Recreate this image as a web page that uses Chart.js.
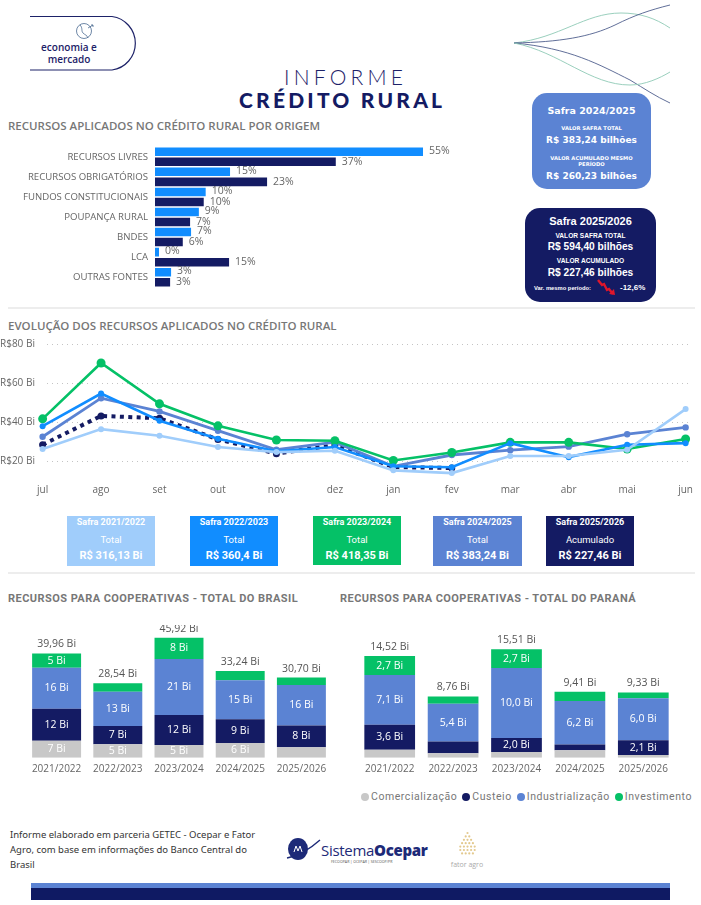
<!DOCTYPE html>
<html lang="pt-BR">
<head>
<meta charset="utf-8">
<title>Informe Crédito Rural</title>
<script src="https://cdn.jsdelivr.net/npm/chart.js@4/dist/chart.umd.min.js"></script>
<style>
html, body { margin: 0; padding: 0; background: #fff; }
#page { position: relative; width: 701px; height: 905px; overflow: hidden; font-family: "Open Sans", sans-serif; }
#page canvas { position: absolute; }
.abs { position: absolute; white-space: nowrap; }
.secao { font: 600 11.5px "Open Sans", sans-serif; color: #777; }
.secao2 { font: 700 11px Roboto, sans-serif; color: #777; letter-spacing: .45px; }
.caixa { position: absolute; color: #fff; text-align: center; }
.caixa div { position: absolute; left: 0; right: 0; white-space: nowrap; transform: translateY(-50%); }
.safra { font-family: "DejaVu Sans", sans-serif; font-weight: 700; border-radius: 15px; }
.safra2 { font-family: "Liberation Sans", sans-serif; font-weight: 700; border-radius: 15px; }
.kpi { font-family: Roboto, sans-serif; width: 88px; height: 50px; top: 516px; }
.kpi div:nth-child(1) { top: 6px; font-size: 9px; font-weight: 700; }
.kpi div:nth-child(2) { top: 23px; font-size: 9.5px; }
.kpi div:nth-child(3) { top: 39px; font-size: 11px; font-weight: 700; }
#legenda { position: absolute; right: 9px; top: 790px; font: 10.5px Roboto, sans-serif; color: #777; letter-spacing: .55px; display: flex; gap: 5px; white-space: nowrap; }
#legenda span { display: flex; align-items: center; }
#legenda i { width: 8px; height: 8px; border-radius: 50%; display: inline-block; margin-right: 2px; }
</style>
</head>
<body>
<div id="page">
  <!-- cabecalho -->
  <svg class="abs" style="left:0;top:0" width="701" height="120" fill="none">
    <defs>
      <linearGradient id="fio" x1="0" x2="1" y1="0" y2="0"><stop offset="0" stop-color="#5f7f95"/><stop offset=".8" stop-color="#7fb8a8"/><stop offset="1" stop-color="#9fd0c0"/></linearGradient>
    </defs>
    <path d="M30 16.5H112a27 27 0 0 1 0 53.5H30" stroke="#1d2268" stroke-width="1.2"/>
    <path d="M139 43.5H514" stroke="url(#fio)" stroke-width="1.3"/>
    <path d="M514 43C560 38 585 13 621 13C640 13 655 18 670 28" stroke="#8fcab5" stroke-width=".9"/>
    <path d="M514 43C560 42 590 37 615 25C635 15 650 10 670 5" stroke="#4f5f8d" stroke-width=".9"/>
    <path d="M514 43C570 48 600 65 630 80C645 89 655 96 670 103" stroke="#4f5f8d" stroke-width=".9"/>
    <path d="M514 43C560 52 590 85 630 85C645 85 660 78 670 72" stroke="#8fcab5" stroke-width=".9"/>
    <g stroke="#4a6a90" stroke-width=".8">
      <circle cx="84" cy="31" r="7.5"/>
      <path d="M80 25c3 3 1 6 3 8s4 2 5 5M88 28l5-3m-2 0h2v2"/>
    </g>
  </svg>
  <div class="abs" style="left:30px;width:78px;top:42px;text-align:center;font:600 10px/11.5px 'Open Sans',sans-serif;color:#1d2268;white-space:normal">economia e<br>mercado</div>
  <div class="abs" style="left:284px;top:64px;font:300 21px Lato,sans-serif;letter-spacing:4.2px;color:#1d2268">INFORME</div>
  <div class="abs" style="left:239px;top:87px;font:900 21px Lato,sans-serif;letter-spacing:3.2px;color:#141b63">CRÉDITO RURAL</div>

  <div class="abs secao" style="left:8px;top:118px">RECURSOS APLICADOS NO CRÉDITO RURAL POR ORIGEM</div>
  <canvas id="origemChart"></canvas>

  <div class="caixa safra" style="left:532px;top:93px;width:119px;height:96px;background:#5b83d3">
    <div style="top:17px;font-size:9.5px">Safra 2024/2025</div>
    <div style="top:35px;font-size:5.2px">VALOR SAFRA TOTAL</div>
    <div style="top:47px;font-size:9px">R$ 383,24 bilhões</div>
    <div style="top:65px;font-size:5.2px">VALOR ACUMULADO MESMO</div>
    <div style="top:71px;font-size:5.2px">PERÍODO</div>
    <div style="top:83px;font-size:9px">R$ 260,23 bilhões</div>
  </div>
  <div class="caixa safra2" style="left:525px;top:208px;width:131px;height:94px;background:#141b63">
    <div style="top:13px;font-size:11px">Safra 2025/2026</div>
    <div style="top:27px;font-size:6.6px">VALOR SAFRA TOTAL</div>
    <div style="top:38px;font-size:10.2px">R$ 594,40 bilhões</div>
    <div style="top:52px;font-size:6.6px">VALOR ACUMULADO</div>
    <div style="top:64px;font-size:10.2px">R$ 227,46 bilhões</div>
    <div style="top:80px;left:9px;right:auto;font-size:5.8px">Var. mesmo período:</div>
    <div style="top:79px;left:95px;right:auto;font-size:8px">-12,6%</div>
    <svg class="abs" style="left:70px;top:70px" width="22" height="20" fill="none"><path d="M3 2l4 5 2-1 3 6 2-1 4 5" stroke="#e0162b" stroke-width="2.4"/><path d="M14 16l6 1-1-6z" fill="#e0162b"/></svg>
  </div>

  <div class="abs" style="left:8px;top:307px;width:687px;height:1.5px;background:#ededed"></div>

  <div class="abs secao" style="left:8px;top:318px">EVOLUÇÃO DOS RECURSOS APLICADOS NO CRÉDITO RURAL</div>
  <canvas id="evolucaoChart"></canvas>

  <div class="caixa kpi" style="left:67px;background:#a0cdfb"><div>Safra 2021/2022</div><div>Total</div><div>R$ 316,13 Bi</div></div>
  <div class="caixa kpi" style="left:190px;background:#118dff"><div>Safra 2022/2023</div><div>Total</div><div>R$ 360,4 Bi</div></div>
  <div class="caixa kpi" style="left:313px;height:49px;background:#05c167"><div>Safra 2023/2024</div><div>Total</div><div>R$ 418,35 Bi</div></div>
  <div class="caixa kpi" style="left:433px;width:89px;background:#5b83d3"><div>Safra 2024/2025</div><div>Total</div><div>R$ 383,24 Bi</div></div>
  <div class="caixa kpi" style="left:546px;background:#141b63"><div>Safra 2025/2026</div><div>Acumulado</div><div>R$ 227,46 Bi</div></div>

  <div class="abs" style="left:8px;top:572px;width:687px;height:1.5px;background:#ededed"></div>

  <div class="abs secao2" style="left:8px;top:592px">RECURSOS PARA COOPERATIVAS - TOTAL DO BRASIL</div>
  <div class="abs secao2" style="left:340px;top:592px">RECURSOS PARA COOPERATIVAS - TOTAL DO PARANÁ</div>
  <canvas id="brasilChart"></canvas>
  <canvas id="paranaChart"></canvas>
  <div id="legenda">
    <span><i style="background:#c8c8c8"></i>Comercialização</span>
    <span><i style="background:#141b63"></i>Custeio</span>
    <span><i style="background:#5b83d3"></i>Industrialização</span>
    <span><i style="background:#05c167"></i>Investimento</span>
  </div>

  <!-- rodape -->
  <div class="abs" style="left:10px;top:827px;font:9.5px/15px 'Noto Sans',sans-serif;color:#333;white-space:normal;width:270px">Informe elaborado em parceria GETEC - Ocepar e Fator<br>Agro, com base em informações do Banco Central do<br>Brasil</div>
  <svg class="abs" style="left:285px;top:835px" width="36" height="28" fill="none">
    <ellipse cx="13" cy="14" rx="10" ry="11" fill="#1d2a78"/>
    <path d="M2 23C14 21 26 13 35 5" stroke="#1d2a78" stroke-width="1.4"/>
    <path d="M9 17l2-6 2 5 2-5 2 6" stroke="#fff" stroke-width="1"/>
  </svg>
  <div class="abs" style="left:321px;top:840px;font:15px 'Open Sans',sans-serif;color:#1d2a78;letter-spacing:-.3px">Sistema<b style="font-weight:800">Ocepar</b></div>
  <div class="abs" style="left:331px;top:859px;font:3.6px 'Open Sans',sans-serif;color:#555">FECOOPAR | OCEPAR | SESCOOP/PR</div>
  <svg class="abs" style="left:455px;top:830px" width="26" height="30" id="fatorLogo"></svg>
  <div class="abs" style="left:449px;top:860px;width:36px;text-align:center;font:7px 'Open Sans',sans-serif;color:#aaa">fator agro</div>

  <div class="abs" style="left:31px;top:883px;width:639px;height:5px;background:#5b83d3"></div>
  <div class="abs" style="left:31px;top:888px;width:639px;height:12px;background:#0f1a63"></div>
</div>

<script>
const COR_CLARO = '#a0cdfb', COR_AZUL = '#118dff', COR_VERDE = '#05c167', COR_MEDIO = '#5b83d3', COR_ESCURO = '#141b63', COR_CINZA = '#c8c8c8';

// Recursos por origem (%)
const origens = ['RECURSOS LIVRES', 'RECURSOS OBRIGATÓRIOS', 'FUNDOS CONSTITUCIONAIS', 'POUPANÇA RURAL', 'BNDES', 'LCA', 'OUTRAS FONTES'];
const origem2425 = [55, 15.4, 10.4, 9, 7.4, 0.4, 3.3];
const origem2526 = [37.1, 23, 10, 7.2, 5.7, 15.2, 3.1];

// Evolucao mensal (R$ Bi)
const meses = ['jul', 'ago', 'set', 'out', 'nov', 'dez', 'jan', 'fev', 'mar', 'abr', 'mai', 'jun'];
const safra2122 = [26.2, 36.4, 33, 27.2, 24.6, 25.3, 15.2, 13.8, 22.6, 22.6, 25.8, 46.7];
const safra2223 = [37.9, 54.7, 40.7, 31.5, 25, 27.2, 17.3, 16.8, 29.2, 22, 28.4, 29.2];
const safra2324 = [41.7, 70.4, 49.4, 38.1, 30.8, 30.4, 20.3, 24.4, 29.6, 29.6, 26.2, 31.3];
const safra2425 = [32.5, 52.3, 45.5, 35.6, 25.8, 29.7, 17.3, 23.1, 25.6, 27.4, 33.8, 37.3];
const safra2526 = [28.4, 43.2, 42, 31.1, 23.8, 28.2, 16.9, 16.4, null, null, null, null];
const ticksEvolucao = [20, 40, 60, 80];

// Cooperativas (R$ Bi)
const safras = ['2021/2022', '2022/2023', '2023/2024', '2024/2025', '2025/2026'];
const brasilComercializacao = [6.5, 5.2, 4.9, 5.6, 4];
const brasilCusteio = [12.3, 6.9, 11.5, 9.1, 8.3];
const brasilIndustrializacao = [15.7, 13.15, 21.45, 15, 15.6];
const brasilInvestimento = [5.46, 3.29, 8.07, 3.54, 2.8];
const brasilTotal = [39.96, 28.54, 45.92, 33.24, 30.70];

const paranaComercializacao = [1.12, 0.65, 0.81, 1.05, 0.38];
const paranaCusteio = [3.6, 1.65, 2, 0.85, 2.1];
const paranaIndustrializacao = [7.1, 5.4, 10, 6.2, 6];
const paranaInvestimento = [2.7, 1.06, 2.7, 1.31, 0.85];
const paranaTotal = [14.52, 8.76, 15.51, 9.41, 9.33];

const COR_TEXTO = '#666';

function place(id, left, top, width, height) {
    const el = document.getElementById(id);
    el.style.left = left + 'px';
    el.style.top = top + 'px';
    el.style.width = width + 'px';
    el.style.height = height + 'px';
    el.width = width;
    el.height = height;
    return el.getContext('2d');
}

// Rotulos em porcentagem na ponta das barras
const rotulosOrigem = {
    id: 'rotulosOrigem',
    afterDatasetsDraw(chart) {
        const ctx = chart.ctx;
        ctx.save();
        ctx.font = '10.5px "Open Sans"';
        ctx.fillStyle = COR_TEXTO;
        ctx.textBaseline = 'middle';
        chart.data.datasets.forEach((ds, i) => {
            chart.getDatasetMeta(i).data.forEach((bar, j) => {
                ctx.fillText(Math.round(ds.data[j]) + '%', bar.x + 6, bar.y + (i === 0 ? -1 : 0));
            });
        });
        ctx.restore();
    }
};

// Grade pontilhada mais curta que a area do grafico
const gradeEvolucao = {
    id: 'gradeEvolucao',
    beforeDatasetsDraw(chart) {
        const ctx = chart.ctx, y = chart.scales.y;
        ctx.save();
        ctx.strokeStyle = '#c4c4c4';
        ctx.lineWidth = 1;
        ctx.setLineDash([1, 4]);
        ticksEvolucao.forEach(v => {
            const py = Math.round(y.getPixelForValue(v)) + 0.5;
            ctx.beginPath();
            ctx.moveTo(47, py);
            ctx.lineTo(688, py);
            ctx.stroke();
        });
        ctx.restore();
    }
};

// Rotulos dentro das barras empilhadas e total em cima
const rotulosPilha = {
    id: 'rotulosPilha',
    afterDatasetsDraw(chart, args, opts) {
        const ctx = chart.ctx;
        ctx.save();
        ctx.textAlign = 'center';
        ctx.textBaseline = 'middle';
        ctx.font = '500 10.5px "Open Sans"';
        ctx.fillStyle = '#fff';
        chart.data.datasets.forEach((ds, i) => {
            chart.getDatasetMeta(i).data.forEach((bar, j) => {
                if (bar.base - bar.y < 12.5) return;
                const txt = opts.decimais ? ds.data[j].toFixed(1).replace('.', ',') : Math.round(ds.data[j]);
                ctx.fillText(txt + ' Bi', bar.x, (bar.y + bar.base) / 2);
            });
        });
        ctx.font = '10.5px "Open Sans"';
        ctx.fillStyle = '#555';
        opts.total.forEach((v, j) => {
            const bar = chart.getDatasetMeta(0).data[j];
            ctx.fillText(v.toFixed(2).replace('.', ',') + ' Bi', bar.x, chart.scales.y.getPixelForValue(v) - 9);
        });
        ctx.restore();
    }
};

function initOrigem() {
    const ctx = place('origemChart', 0, 134, 500, 166);
    return new Chart(ctx, {
        type: 'bar',
        data: {
            labels: origens,
            datasets: [
                { label: 'Safra 2024/2025', data: origem2425, backgroundColor: COR_AZUL, minBarLength: 4 },
                { label: 'Safra 2025/2026', data: origem2526, backgroundColor: COR_ESCURO }
            ]
        },
        options: {
            indexAxis: 'y',
            responsive: false,
            animation: false,
            devicePixelRatio: 1,
            layout: { padding: 0 },
            plugins: { legend: { display: false }, tooltip: { enabled: false } },
            datasets: { bar: { barPercentage: 0.85, categoryPercentage: 1 } },
            scales: {
                x: { display: false, min: 0, max: 70.8 },
                y: {
                    afterFit(scale) { scale.width = 155; },
                    grid: { display: false, drawTicks: false },
                    border: { display: false },
                    ticks: { color: COR_TEXTO, font: { family: 'Open Sans', size: 9.6 }, padding: 7, autoSkip: false }
                }
            }
        },
        plugins: [rotulosOrigem]
    });
}

function serie(label, data, color, lineWidth, radius, extra) {
    return Object.assign({
        label: label, data: data, borderColor: color, backgroundColor: color,
        borderWidth: lineWidth, pointRadius: radius, pointBorderWidth: 0, tension: 0, fill: false, spanGaps: false
    }, extra);
}

function initEvolucao() {
    const ctx = place('evolucaoChart', 0, 336, 701, 165);
    return new Chart(ctx, {
        type: 'line',
        data: {
            labels: meses,
            datasets: [
                serie('Safra 2021/2022', safra2122, COR_CLARO, 2.6, 3),
                serie('Safra 2022/2023', safra2223, COR_AZUL, 2.6, 3),
                serie('Safra 2023/2024', safra2324, COR_VERDE, 2.6, 4.5),
                serie('Safra 2024/2025', safra2425, COR_MEDIO, 2.8, 3.2),
                serie('Safra 2025/2026', safra2526, COR_ESCURO, 4, 3.5, { borderDash: [4, 4.4] })
            ]
        },
        options: {
            responsive: false,
            animation: false,
            devicePixelRatio: 1,
            layout: { padding: { top: 8.3, right: 7.2 } },
            plugins: { legend: { display: false }, tooltip: { enabled: false } },
            scales: {
                x: {
                    afterFit(scale) { scale.height = 24.4; },
                    grid: { display: false, drawTicks: false },
                    border: { display: false },
                    ticks: { color: COR_TEXTO, font: { family: 'Open Sans', size: 10 }, padding: 8 }
                },
                y: {
                    min: 12,
                    max: 80,
                    afterFit(scale) { scale.width = 42.6; },
                    afterBuildTicks(scale) { scale.ticks = ticksEvolucao.map(v => ({ value: v })); },
                    grid: { display: false, drawTicks: false },
                    border: { display: false },
                    ticks: {
                        color: COR_TEXTO, font: { family: 'Open Sans', size: 10 }, padding: 0, crossAlign: 'far',
                        callback: v => 'R$' + v + ' Bi'
                    }
                }
            }
        },
        plugins: [gradeEvolucao]
    });
}

function initPilha(id, left, width, maxY, series, total, decimais) {
    const ctx = place(id, left, 625, width, 155);
    const nomes = ['Comercialização', 'Custeio', 'Industrialização', 'Investimento'];
    const cores = [COR_CINZA, COR_ESCURO, COR_MEDIO, COR_VERDE];
    return new Chart(ctx, {
        type: 'bar',
        data: {
            labels: safras,
            datasets: series.map((s, i) => ({ label: nomes[i], data: s, backgroundColor: cores[i], barPercentage: 0.8, categoryPercentage: 1 }))
        },
        options: {
            responsive: false,
            animation: false,
            devicePixelRatio: 1,
            layout: { padding: 0 },
            plugins: {
                legend: { display: false },
                tooltip: { enabled: false },
                rotulosPilha: { total: total, decimais: decimais }
            },
            scales: {
                x: {
                    stacked: true,
                    afterFit(scale) { scale.height = 22.3; },
                    grid: { display: false, drawTicks: false },
                    border: { display: false },
                    ticks: { color: COR_TEXTO, font: { family: 'Open Sans', size: 10 }, padding: 5, maxRotation: 0, autoSkip: false }
                },
                y: { stacked: true, display: false, min: 0, max: maxY }
            }
        },
        plugins: [rotulosPilha]
    });
}

// Logo da fator agro: triangulo de pontos
function desenhaFator() {
    const svg = document.getElementById('fatorLogo');
    let html = '';
    for (let l = 0; l < 7; l++) {
        const n = l < 5 ? l + 1 : 11 - l - 1;
        for (let c = 0; c < n; c++) {
            const cx = 12.5 + (c - (n - 1) / 2) * 3.6;
            html += '<circle cx="' + cx + '" cy="' + (3 + l * 3.4) + '" r="1.1" fill="#e3c98e"/>';
        }
    }
    svg.innerHTML = html;
}

window.onload = () => {
    initOrigem();
    initEvolucao();
    initPilha('brasilChart', 26, 306, 50.84, [brasilComercializacao, brasilCusteio, brasilIndustrializacao, brasilInvestimento], brasilTotal, false);
    initPilha('paranaChart', 358, 317, 18.96, [paranaComercializacao, paranaCusteio, paranaIndustrializacao, paranaInvestimento], paranaTotal, true);
    desenhaFator();
};
</script>
</body>
</html>
